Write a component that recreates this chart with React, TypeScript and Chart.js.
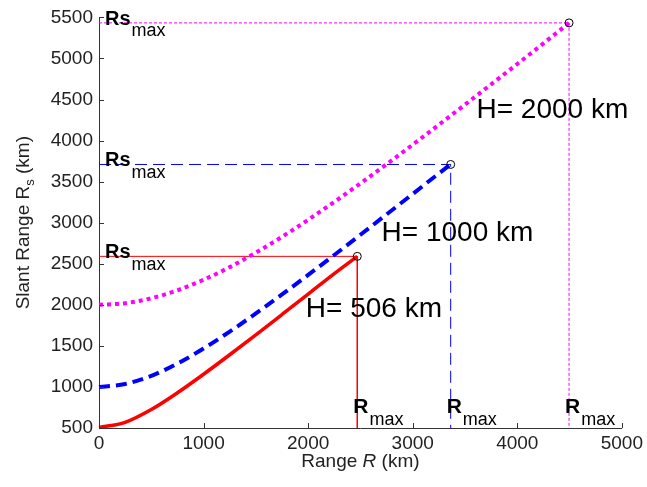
import React, { useEffect, useRef } from "react";
import { Chart, registerables } from "chart.js";

Chart.register(...registerables);

// ---- Data ----
const range506 = [0, 250, 500, 750, 1000, 1250, 1500, 1750, 2000, 2250, 2470];
const slant506 = [506, 569, 725, 929, 1155, 1392, 1635, 1882, 2130, 2380, 2590];

const range1000 = [0, 250, 500, 750, 1000, 1250, 1500, 1750, 2000, 2250, 2500, 2750, 3000, 3250, 3363];
const slant1000 = [1000, 1036, 1135, 1285, 1468, 1674, 1895, 2126, 2364, 2607, 2853, 3101, 3350, 3600, 3709];

const range2000 = [0, 250, 500, 750, 1000, 1250, 1500, 1750, 2000, 2250, 2500, 2750, 3000, 3250, 3500, 3750, 4000, 4250, 4495];
const slant2000 = [2000, 2020, 2080, 2177, 2305, 2459, 2635, 2828, 3035, 3253, 3479, 3712, 3950, 4193, 4438, 4685, 4933, 5183, 5433];

const seriesNames = ["H= 506 km", "H= 1000 km", "H= 2000 km"];
const seriesColors = ["#ff0000", "#0000ff", "#ff00ff"];

const xMin = 0, xMax = 5000, xStep = 1000;
const yMin = 500, yMax = 5500, yStep = 500;

const xTitle = ["Range ", "R", " (km)"];
const yTitle = ["Slant Range R", "s", " (km)"];

// label anchor points (data coordinates)
const hLabelX = [1978, 2702, 3610];
const hLabelY = [1847, 2776, 4269];

const FONT = '"Liberation Sans", Arial, Helvetica, sans-serif';

const zip = (xs: number[], ys: number[]) => xs.map((x, i) => ({ x, y: ys[i] }));

const curves = [zip(range506, slant506), zip(range1000, slant1000), zip(range2000, slant2000)];
const ends = curves.map((c) => c[c.length - 1]);

const annotate = {
  id: "annotate",
  afterDraw(chart: any) {
    const { ctx, chartArea, scales } = chart;
    const xs = scales.x, ys = scales.y;
    ctx.save();
    // inward ticks
    ctx.strokeStyle = "#333";
    ctx.lineWidth = 1;
    ctx.beginPath();
    ys.ticks.forEach((t: any) => {
      const py = Math.round(ys.getPixelForValue(t.value)) + 0.5;
      ctx.moveTo(chartArea.left, py);
      ctx.lineTo(chartArea.left + 5, py);
    });
    xs.ticks.forEach((t: any) => {
      const px = Math.round(xs.getPixelForValue(t.value)) + 0.5;
      ctx.moveTo(px, chartArea.bottom);
      ctx.lineTo(px, chartArea.bottom - 5);
    });
    ctx.stroke();

    ctx.fillStyle = "#000";
    ctx.textAlign = "left";
    ctx.textBaseline = "alphabetic";

    // Rs_max labels
    ends.forEach((e) => {
      const py = ys.getPixelForValue(e.y);
      const px0 = chartArea.left + 6;
      ctx.font = `bold 20px ${FONT}`;
      ctx.fillText("Rs", px0, py + 2);
      const w = ctx.measureText("Rs").width;
      ctx.font = `18px ${FONT}`;
      ctx.fillText("max", px0 + w + 1, py + 13.5);
    });

    // R_max labels
    ends.forEach((e) => {
      const px = xs.getPixelForValue(e.x) - 4;
      ctx.font = `bold 21px ${FONT}`;
      ctx.fillText("R", px, chartArea.bottom - 15);
      const w = ctx.measureText("R").width;
      ctx.font = `18px ${FONT}`;
      ctx.fillText("max", px + w + 1, chartArea.bottom - 3);
    });

    // H labels
    ctx.font = `28px ${FONT}`;
    seriesNames.forEach((n, i) => {
      ctx.fillText(n, xs.getPixelForValue(hLabelX[i]), ys.getPixelForValue(hLabelY[i]));
    });

    // X title
    ctx.fillStyle = "#222";
    const f = `19px ${FONT}`;
    const fi = `italic 19px ${FONT}`;
    ctx.font = f;
    const a = ctx.measureText(xTitle[0]).width;
    ctx.font = fi;
    const b = ctx.measureText(xTitle[1]).width;
    ctx.font = f;
    const c = ctx.measureText(xTitle[2]).width;
    const cx = (chartArea.left + chartArea.right) / 2;
    const sx = cx - (a + b + c) / 2;
    const by = chartArea.bottom + 39;
    ctx.font = f;
    ctx.fillText(xTitle[0], sx, by);
    ctx.font = fi;
    ctx.fillText(xTitle[1], sx + a, by);
    ctx.font = f;
    ctx.fillText(xTitle[2], sx + a + b, by);

    // Y title
    ctx.save();
    ctx.translate(29, (chartArea.top + chartArea.bottom) / 2);
    ctx.rotate(-Math.PI / 2);
    ctx.font = f;
    const w1 = ctx.measureText(yTitle[0]).width;
    ctx.font = `13px ${FONT}`;
    const w2 = ctx.measureText(yTitle[1]).width;
    ctx.font = f;
    const w3 = ctx.measureText(yTitle[2]).width;
    const st = -(w1 + w2 + w3) / 2;
    ctx.font = f;
    ctx.fillText(yTitle[0], st, 0);
    ctx.font = `13px ${FONT}`;
    ctx.fillText(yTitle[1], st + w1, 5);
    ctx.font = f;
    ctx.fillText(yTitle[2], st + w1 + w2, 0);
    ctx.restore();

    ctx.restore();
  },
};

export default function App() {
  const ref = useRef<HTMLCanvasElement | null>(null);
  useEffect(() => {
    document.body.style.margin = "0";
    document.body.style.background = "#fff";
    if (!ref.current) return;
    const refDash = [[], [12, 6], [3, 2]];
    const curveDash = [[], [11, 6], [4, 4]];
    const datasets: any[] = [];
    datasets.push({
      label: "ends",
      data: ends,
      showLine: false,
      pointRadius: 4,
      pointBorderWidth: 1,
      pointBorderColor: "#000",
      pointBackgroundColor: "rgba(0,0,0,0)",
      clip: false,
    });
    curves.forEach((c, i) => {
      datasets.push({
        label: seriesNames[i],
        data: c,
        showLine: true,
        borderColor: seriesColors[i],
        borderWidth: i === 0 ? 3.5 : 4,
        borderDash: curveDash[i],
        pointRadius: 0,
        cubicInterpolationMode: "monotone",
        clip: 6,
      });
    });
    ends.forEach((e, i) => {
      datasets.push({
        label: "ref" + i,
        data: [
          { x: xMin, y: e.y },
          { x: e.x, y: e.y },
          { x: e.x, y: yMin },
        ],
        showLine: true,
        borderColor: seriesColors[i],
        borderWidth: 1,
        borderDash: refDash[i],
        pointRadius: 0,
        tension: 0,
      });
    });

    const chart = new Chart(ref.current, {
      type: "scatter",
      data: { datasets },
      options: {
        animation: false,
        responsive: false,
        devicePixelRatio: 1,
        layout: { padding: { left: 0, top: 15, right: 23, bottom: 0 } },
        plugins: { legend: { display: false }, tooltip: { enabled: false } },
        scales: {
          x: {
            type: "linear",
            min: xMin,
            max: xMax,
            afterFit: (s: any) => { s.height = 59; },
            ticks: { stepSize: xStep, color: "#222", font: { family: FONT, size: 19 }, padding: 4, maxRotation: 0, callback: (v: any) => String(v) },
            grid: { display: true, drawOnChartArea: false, drawTicks: false },
            border: { display: true, color: "#333", width: 1 },
          },
          y: {
            type: "linear",
            min: yMin,
            max: yMax,
            afterFit: (s: any) => { s.width = 99; },
            ticks: { stepSize: yStep, color: "#222", font: { family: FONT, size: 19 }, padding: 6, callback: (v: any) => String(v) },
            grid: { display: true, drawOnChartArea: false, drawTicks: false },
            border: { display: true, color: "#333", width: 1 },
          },
        },
      },
      plugins: [annotate],
    } as any);
    return () => chart.destroy();
  }, []);
  return (
    <div style={{ width: 647, height: 487, background: "#fff" }}>
      <canvas ref={ref} width={647} height={487} style={{ display: "block" }} />
    </div>
  );
}
